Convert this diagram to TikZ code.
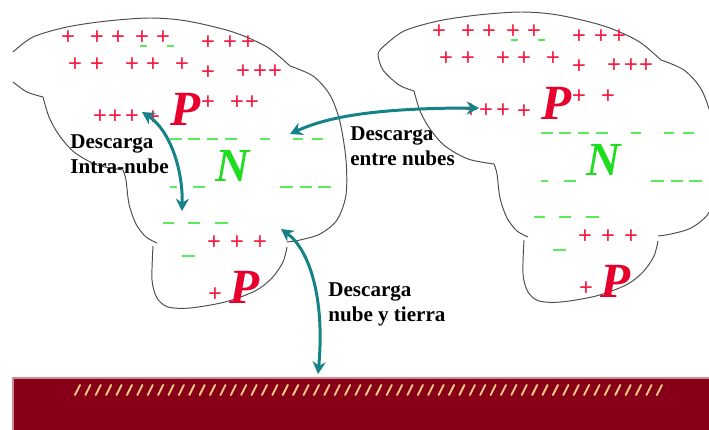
\documentclass[tikz,border=0pt]{standalone}
\usepackage{fontspec}
\setmainfont{Liberation Serif}
\newfontfamily\chargefont{Liberation Sans}
\usetikzlibrary{arrows.meta}

\definecolor{posred}{RGB}{245,25,65}
\definecolor{letterred}{RGB}{232,0,45}
\definecolor{neggreen}{RGB}{90,235,90}
\definecolor{lettergreen}{RGB}{30,220,30}
\definecolor{arrowteal}{RGB}{20,130,135}
\definecolor{soil}{RGB}{135,0,24}
\definecolor{soiledge}{RGB}{205,140,150}
\definecolor{hatchcol}{RGB}{240,200,130}

\tikzset{
  cloudline/.style={draw=black!70, line width=0.55pt},
  poscharge/.style={text=posred, font=\chargefont\fontsize{13.5}{13.5}\selectfont, inner sep=0pt},
  negcharge/.style={draw=neggreen, line width=0.75pt},
  bigletter/.style={font=\bfseries\itshape\fontsize{28}{28}\selectfont, inner sep=0pt},
  desc/.style={font=\bfseries\fontsize{12}{14.2}\selectfont, align=left, anchor=north west, inner sep=0pt},
  discharge/.style={draw=arrowteal, line width=1.7pt,
    {Stealth[length=7pt,width=7.5pt]}-{Stealth[length=7pt,width=7.5pt]}},
  hatchline/.style={draw=hatchcol, line width=1.1pt, line cap=round},
}

% outline of one cloud, lobe by lobe
\newcommand\cloudshape{%
  \draw[cloudline] plot[smooth] coordinates {(13,52) (33,37) (67,27) (107,21) (150,18) (187,21) (233,32) (267,47) (290,66)};
  \draw[cloudline] plot[smooth] coordinates {(290,66) (313,76) (330,95) (340,122) (346,160) (346,195) (337,220) (320,234) (300,240) (287,242)};
  \draw[cloudline] plot[smooth] coordinates {(287,247) (283,262) (272,278) (255,291) (225,302) (190,308) (168,307) (157,298) (152,280) (153,246)};
  \draw[cloudline] plot[smooth] coordinates {(123,170) (126,180) (129,204) (136,224) (146,237) (157,243)};
  \draw[cloudline] plot[smooth] coordinates {(43,97) (49,117) (59,135) (74,152) (97,165) (123,170)};
}

% charges inside one cloud
\newcommand\cloudcharges[1]{%
  \foreach \x/\y [count=\i] in {68/38,97/38,118/38,142/38,163/38,208/43,230/43,248/43,
      75/65,97/65,132/65,153/65,182/65,208/73,243/72,260/72,275/72,
      100/117,115/117,132/117,153/118,208/103,237/103,
      214/243,237/243,260/243,215/295}
    \node[poscharge] (#1p\i) at (\x,\y) {+};
  \foreach \a/\b/\y in {140/147/46,167/174/46,
      170/182/139,188/200/139,207/218/139,225/237/139,260/270/139,293/303/139,312/323/139,
      170/177/187,193/205/187,280/293/187,300/312/187,318/331/187,
      163/174/223,188/200/223,215/228/223,182/195/256}
    \draw[negcharge] (\a,\y) -- (\b,\y);
  \node[bigletter, text=letterred] (#1Ptop) at (186,109) {P};
  \node[bigletter, text=lettergreen, font=\bfseries\itshape\fontsize{27}{27}\selectfont] (#1N) at (233,166) {N};
  \node[bigletter, text=letterred] (#1Pbot) at (245,287) {P};
}

\begin{document}
\begin{tikzpicture}[x=0.02cm, y=-0.02cm]
\useasboundingbox (0,0) rectangle (709,429);
\clip (0,0) rectangle (709,429);

% ground
\fill[soil, draw=soiledge, line width=0.6pt] (13,378) rectangle (712,432);
\foreach \i in {0,...,56}
  \draw[hatchline] ({75+10.39*\i},395) -- ({80+10.39*\i},385);

% left cloud
\cloudshape
\draw[cloudline] plot[smooth] coordinates {(13,82) (27,92) (43,97)};
\cloudcharges{l}
\node[poscharge] (lpx) at (252,103) {+};

% right cloud
\begin{scope}[shift={(371,-6)}]
  \cloudshape
  \draw[cloudline] plot[smooth] coordinates {(13,52) (7,60) (12,76) (28,91) (43,97)};
  \cloudcharges{r}
\end{scope}

% discharges
\coordinate (intraA) at (142,112);
\coordinate (intraB) at (182,211);
\coordinate (entreA) at (290,134);
\coordinate (entreB) at (479,108);
\coordinate (tierraA) at (281,229);
\coordinate (tierraB) at (318,374);
\draw[discharge] (intraA) .. controls (170,130) and (183,170) .. (intraB);
\draw[discharge] (entreA) .. controls (325,118) and (370,108) .. (entreB);
\draw[discharge] (tierraA) .. controls (310,250) and (325,300) .. (tierraB);

\node[desc] (intraLbl) at (70,134) {Descarga\\Intra-nube};
\node[desc] (entreLbl) at (350,126) {Descarga\\entre nubes};
\node[desc] (tierraLbl) at (328,282) {Descarga\\nube y tierra};
\end{tikzpicture}
\end{document}
